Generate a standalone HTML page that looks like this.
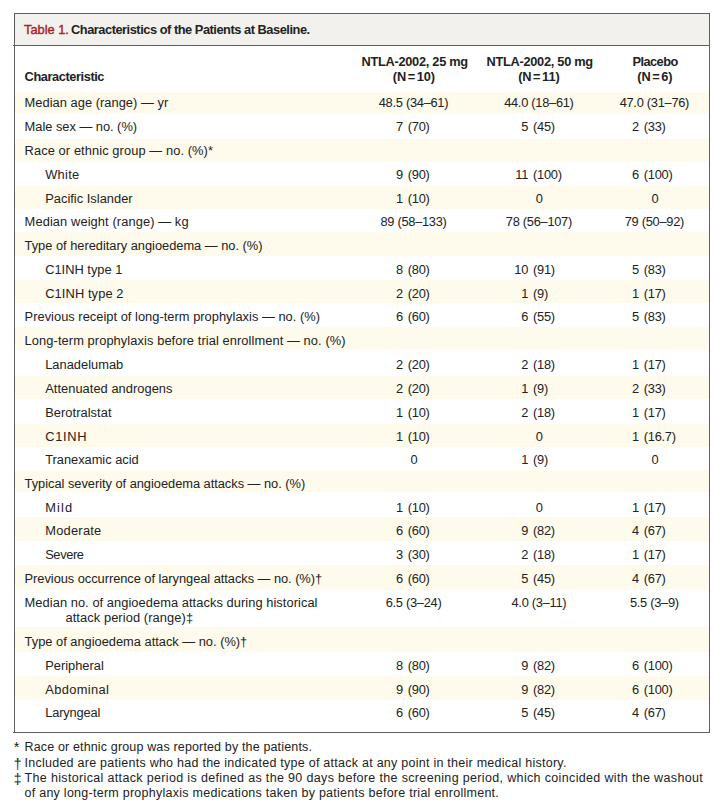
<!DOCTYPE html>
<html><head><meta charset="utf-8"><style>
html,body{margin:0;padding:0;background:#fff;width:723px;height:804px;overflow:hidden;position:relative}
body{font-family:"Liberation Sans",sans-serif;color:#222}
.t{position:absolute;white-space:pre;line-height:normal}
.s{position:absolute;left:15px;width:694px;background:#fefaec}
.box{position:absolute;left:14px;top:13px;width:694px;height:718px;border:1px solid #5f5f5f}
.hdr{position:absolute;left:15px;top:14px;width:694px;height:31px;background:#f3f1ed;border-bottom:1px solid #5f5f5f}
</style></head><body>
<div class="box"></div>
<div class="hdr"></div>
<div style="position:absolute;left:13px;top:45px;width:1px;height:1px;background:#5f5f5f"></div>
<div style="position:absolute;left:13px;top:732px;width:1px;height:1px;background:#5f5f5f"></div>
<div class="s" style="top:92.0px;height:22.2px"></div>
<div class="s" style="top:138.6px;height:23.4px"></div>
<div class="s" style="top:186.2px;height:23.0px"></div>
<div class="s" style="top:232.2px;height:23.6px"></div>
<div class="s" style="top:279.6px;height:23.4px"></div>
<div class="s" style="top:327.2px;height:22.4px"></div>
<div class="s" style="top:375.6px;height:23.6px"></div>
<div class="s" style="top:423.5px;height:23.0px"></div>
<div class="s" style="top:470.0px;height:21.8px"></div>
<div class="s" style="top:517.3px;height:24.2px"></div>
<div class="s" style="top:565.0px;height:25.0px"></div>
<div class="s" style="top:627.4px;height:24.3px"></div>
<div class="s" style="top:675.9px;height:23.9px"></div>
<div class="t" style="left:24.60px;top:95.37px;font-size:12.85px;letter-spacing:0.036px;color:#222;">Median age (range) — yr</div>
<div class="t" style="left:263.50px;width:300px;text-align:center;top:95.37px;font-size:12.85px;letter-spacing:-0.28px;color:#222;">48.5 (34–61)</div>
<div class="t" style="left:388.90px;width:300px;text-align:center;top:95.37px;font-size:12.85px;letter-spacing:-0.28px;color:#222;">44.0 (18–61)</div>
<div class="t" style="left:504.40px;width:300px;text-align:center;top:95.37px;font-size:12.85px;letter-spacing:-0.28px;color:#222;">47.0 (31–76)</div>
<div class="t" style="left:24.60px;top:119.17px;font-size:12.85px;letter-spacing:-0.018px;color:#222;">Male sex — no. (%)</div>
<div class="t" style="left:302.80px;width:100px;text-align:right;top:119.17px;font-size:12.85px;letter-spacing:-0.28px">7</div>
<div class="t" style="left:407.80px;top:119.17px;font-size:12.85px;letter-spacing:-0.28px;color:#222;">(70)</div>
<div class="t" style="left:428.10px;width:100px;text-align:right;top:119.17px;font-size:12.85px;letter-spacing:-0.28px">5</div>
<div class="t" style="left:533.10px;top:119.17px;font-size:12.85px;letter-spacing:-0.28px;color:#222;">(45)</div>
<div class="t" style="left:538.80px;width:100px;text-align:right;top:119.17px;font-size:12.85px;letter-spacing:-0.28px">2</div>
<div class="t" style="left:643.80px;top:119.17px;font-size:12.85px;letter-spacing:-0.28px;color:#222;">(33)</div>
<div class="t" style="left:24.60px;top:142.97px;font-size:12.85px;letter-spacing:0.093px;color:#222;">Race or ethnic group — no. (%)*</div>
<div class="t" style="left:45.20px;top:166.77px;font-size:12.85px;letter-spacing:0.3px;color:#222;">White</div>
<div class="t" style="left:302.80px;width:100px;text-align:right;top:166.77px;font-size:12.85px;letter-spacing:-0.28px">9</div>
<div class="t" style="left:407.80px;top:166.77px;font-size:12.85px;letter-spacing:-0.28px;color:#222;">(90)</div>
<div class="t" style="left:428.10px;width:100px;text-align:right;top:166.77px;font-size:12.85px;letter-spacing:-0.28px">11</div>
<div class="t" style="left:533.10px;top:166.77px;font-size:12.85px;letter-spacing:-0.28px;color:#222;">(100)</div>
<div class="t" style="left:538.80px;width:100px;text-align:right;top:166.77px;font-size:12.85px;letter-spacing:-0.28px">6</div>
<div class="t" style="left:643.80px;top:166.77px;font-size:12.85px;letter-spacing:-0.28px;color:#222;">(100)</div>
<div class="t" style="left:45.20px;top:190.57px;font-size:12.85px;letter-spacing:0.02px;color:#222;">Pacific Islander</div>
<div class="t" style="left:302.80px;width:100px;text-align:right;top:190.57px;font-size:12.85px;letter-spacing:-0.28px">1</div>
<div class="t" style="left:407.80px;top:190.57px;font-size:12.85px;letter-spacing:-0.28px;color:#222;">(10)</div>
<div class="t" style="left:389.10px;width:300px;text-align:center;top:190.57px;font-size:12.85px;letter-spacing:-0.28px;color:#222;">0</div>
<div class="t" style="left:505.00px;width:300px;text-align:center;top:190.57px;font-size:12.85px;letter-spacing:-0.28px;color:#222;">0</div>
<div class="t" style="left:24.60px;top:214.37px;font-size:12.85px;letter-spacing:0.104px;color:#222;">Median weight (range) — kg</div>
<div class="t" style="left:263.50px;width:300px;text-align:center;top:214.37px;font-size:12.85px;letter-spacing:-0.28px;color:#222;">89 (58–133)</div>
<div class="t" style="left:388.90px;width:300px;text-align:center;top:214.37px;font-size:12.85px;letter-spacing:-0.28px;color:#222;">78 (56–107)</div>
<div class="t" style="left:504.40px;width:300px;text-align:center;top:214.37px;font-size:12.85px;letter-spacing:-0.28px;color:#222;">79 (50–92)</div>
<div class="t" style="left:24.60px;top:238.17px;font-size:12.85px;letter-spacing:-0.016px;color:#222;">Type of hereditary angioedema — no. (%)</div>
<div class="t" style="left:45.20px;top:261.97px;font-size:12.85px;letter-spacing:0.009px;color:#222;">C1INH type 1</div>
<div class="t" style="left:302.80px;width:100px;text-align:right;top:261.97px;font-size:12.85px;letter-spacing:-0.28px">8</div>
<div class="t" style="left:407.80px;top:261.97px;font-size:12.85px;letter-spacing:-0.28px;color:#222;">(80)</div>
<div class="t" style="left:428.10px;width:100px;text-align:right;top:261.97px;font-size:12.85px;letter-spacing:-0.28px">10</div>
<div class="t" style="left:533.10px;top:261.97px;font-size:12.85px;letter-spacing:-0.28px;color:#222;">(91)</div>
<div class="t" style="left:538.80px;width:100px;text-align:right;top:261.97px;font-size:12.85px;letter-spacing:-0.28px">5</div>
<div class="t" style="left:643.80px;top:261.97px;font-size:12.85px;letter-spacing:-0.28px;color:#222;">(83)</div>
<div class="t" style="left:45.20px;top:285.77px;font-size:12.85px;letter-spacing:0.109px;color:#222;">C1INH type 2</div>
<div class="t" style="left:302.80px;width:100px;text-align:right;top:285.77px;font-size:12.85px;letter-spacing:-0.28px">2</div>
<div class="t" style="left:407.80px;top:285.77px;font-size:12.85px;letter-spacing:-0.28px;color:#222;">(20)</div>
<div class="t" style="left:428.10px;width:100px;text-align:right;top:285.77px;font-size:12.85px;letter-spacing:-0.28px">1</div>
<div class="t" style="left:533.10px;top:285.77px;font-size:12.85px;letter-spacing:-0.28px;color:#222;">(9)</div>
<div class="t" style="left:538.80px;width:100px;text-align:right;top:285.77px;font-size:12.85px;letter-spacing:-0.28px">1</div>
<div class="t" style="left:643.80px;top:285.77px;font-size:12.85px;letter-spacing:-0.28px;color:#222;">(17)</div>
<div class="t" style="left:24.60px;top:308.77px;font-size:12.85px;letter-spacing:0.026px;color:#222;">Previous receipt of long-term prophylaxis — no. (%)</div>
<div class="t" style="left:302.80px;width:100px;text-align:right;top:308.77px;font-size:12.85px;letter-spacing:-0.28px">6</div>
<div class="t" style="left:407.80px;top:308.77px;font-size:12.85px;letter-spacing:-0.28px;color:#222;">(60)</div>
<div class="t" style="left:428.10px;width:100px;text-align:right;top:308.77px;font-size:12.85px;letter-spacing:-0.28px">6</div>
<div class="t" style="left:533.10px;top:308.77px;font-size:12.85px;letter-spacing:-0.28px;color:#222;">(55)</div>
<div class="t" style="left:538.80px;width:100px;text-align:right;top:308.77px;font-size:12.85px;letter-spacing:-0.28px">5</div>
<div class="t" style="left:643.80px;top:308.77px;font-size:12.85px;letter-spacing:-0.28px;color:#222;">(83)</div>
<div class="t" style="left:24.60px;top:333.37px;font-size:12.85px;letter-spacing:0.087px;color:#222;">Long-term prophylaxis before trial enrollment — no. (%)</div>
<div class="t" style="left:45.20px;top:357.17px;font-size:12.85px;letter-spacing:0.02px;color:#222;">Lanadelumab</div>
<div class="t" style="left:302.80px;width:100px;text-align:right;top:357.17px;font-size:12.85px;letter-spacing:-0.28px">2</div>
<div class="t" style="left:407.80px;top:357.17px;font-size:12.85px;letter-spacing:-0.28px;color:#222;">(20)</div>
<div class="t" style="left:428.10px;width:100px;text-align:right;top:357.17px;font-size:12.85px;letter-spacing:-0.28px">2</div>
<div class="t" style="left:533.10px;top:357.17px;font-size:12.85px;letter-spacing:-0.28px;color:#222;">(18)</div>
<div class="t" style="left:538.80px;width:100px;text-align:right;top:357.17px;font-size:12.85px;letter-spacing:-0.28px">1</div>
<div class="t" style="left:643.80px;top:357.17px;font-size:12.85px;letter-spacing:-0.28px;color:#222;">(17)</div>
<div class="t" style="left:45.20px;top:380.97px;font-size:12.85px;letter-spacing:0.047px;color:#222;">Attenuated androgens</div>
<div class="t" style="left:302.80px;width:100px;text-align:right;top:380.97px;font-size:12.85px;letter-spacing:-0.28px">2</div>
<div class="t" style="left:407.80px;top:380.97px;font-size:12.85px;letter-spacing:-0.28px;color:#222;">(20)</div>
<div class="t" style="left:428.10px;width:100px;text-align:right;top:380.97px;font-size:12.85px;letter-spacing:-0.28px">1</div>
<div class="t" style="left:533.10px;top:380.97px;font-size:12.85px;letter-spacing:-0.28px;color:#222;">(9)</div>
<div class="t" style="left:538.80px;width:100px;text-align:right;top:380.97px;font-size:12.85px;letter-spacing:-0.28px">2</div>
<div class="t" style="left:643.80px;top:380.97px;font-size:12.85px;letter-spacing:-0.28px;color:#222;">(33)</div>
<div class="t" style="left:45.20px;top:404.77px;font-size:12.85px;letter-spacing:0.055px;color:#222;">Berotralstat</div>
<div class="t" style="left:302.80px;width:100px;text-align:right;top:404.77px;font-size:12.85px;letter-spacing:-0.28px">1</div>
<div class="t" style="left:407.80px;top:404.77px;font-size:12.85px;letter-spacing:-0.28px;color:#222;">(10)</div>
<div class="t" style="left:428.10px;width:100px;text-align:right;top:404.77px;font-size:12.85px;letter-spacing:-0.28px">2</div>
<div class="t" style="left:533.10px;top:404.77px;font-size:12.85px;letter-spacing:-0.28px;color:#222;">(18)</div>
<div class="t" style="left:538.80px;width:100px;text-align:right;top:404.77px;font-size:12.85px;letter-spacing:-0.28px">1</div>
<div class="t" style="left:643.80px;top:404.77px;font-size:12.85px;letter-spacing:-0.28px;color:#222;">(17)</div>
<div class="t" style="left:45.20px;top:428.57px;font-size:12.85px;letter-spacing:0.725px;color:#222;">C1INH</div>
<div class="t" style="left:302.80px;width:100px;text-align:right;top:428.57px;font-size:12.85px;letter-spacing:-0.28px">1</div>
<div class="t" style="left:407.80px;top:428.57px;font-size:12.85px;letter-spacing:-0.28px;color:#222;">(10)</div>
<div class="t" style="left:389.10px;width:300px;text-align:center;top:428.57px;font-size:12.85px;letter-spacing:-0.28px;color:#222;">0</div>
<div class="t" style="left:538.80px;width:100px;text-align:right;top:428.57px;font-size:12.85px;letter-spacing:-0.28px">1</div>
<div class="t" style="left:643.80px;top:428.57px;font-size:12.85px;letter-spacing:-0.28px;color:#222;">(16.7)</div>
<div class="t" style="left:45.20px;top:452.37px;font-size:12.85px;letter-spacing:-0.021px;color:#222;">Tranexamic acid</div>
<div class="t" style="left:264.00px;width:300px;text-align:center;top:452.37px;font-size:12.85px;letter-spacing:-0.28px;color:#222;">0</div>
<div class="t" style="left:428.10px;width:100px;text-align:right;top:452.37px;font-size:12.85px;letter-spacing:-0.28px">1</div>
<div class="t" style="left:533.10px;top:452.37px;font-size:12.85px;letter-spacing:-0.28px;color:#222;">(9)</div>
<div class="t" style="left:505.00px;width:300px;text-align:center;top:452.37px;font-size:12.85px;letter-spacing:-0.28px;color:#222;">0</div>
<div class="t" style="left:24.60px;top:476.17px;font-size:12.85px;letter-spacing:-0.03px;color:#222;">Typical severity of angioedema attacks — no. (%)</div>
<div class="t" style="left:45.20px;top:499.97px;font-size:12.85px;letter-spacing:1.167px;color:#222;">Mild</div>
<div class="t" style="left:302.80px;width:100px;text-align:right;top:499.97px;font-size:12.85px;letter-spacing:-0.28px">1</div>
<div class="t" style="left:407.80px;top:499.97px;font-size:12.85px;letter-spacing:-0.28px;color:#222;">(10)</div>
<div class="t" style="left:389.10px;width:300px;text-align:center;top:499.97px;font-size:12.85px;letter-spacing:-0.28px;color:#222;">0</div>
<div class="t" style="left:538.80px;width:100px;text-align:right;top:499.97px;font-size:12.85px;letter-spacing:-0.28px">1</div>
<div class="t" style="left:643.80px;top:499.97px;font-size:12.85px;letter-spacing:-0.28px;color:#222;">(17)</div>
<div class="t" style="left:45.20px;top:522.97px;font-size:12.85px;letter-spacing:0.257px;color:#222;">Moderate</div>
<div class="t" style="left:302.80px;width:100px;text-align:right;top:522.97px;font-size:12.85px;letter-spacing:-0.28px">6</div>
<div class="t" style="left:407.80px;top:522.97px;font-size:12.85px;letter-spacing:-0.28px;color:#222;">(60)</div>
<div class="t" style="left:428.10px;width:100px;text-align:right;top:522.97px;font-size:12.85px;letter-spacing:-0.28px">9</div>
<div class="t" style="left:533.10px;top:522.97px;font-size:12.85px;letter-spacing:-0.28px;color:#222;">(82)</div>
<div class="t" style="left:538.80px;width:100px;text-align:right;top:522.97px;font-size:12.85px;letter-spacing:-0.28px">4</div>
<div class="t" style="left:643.80px;top:522.97px;font-size:12.85px;letter-spacing:-0.28px;color:#222;">(67)</div>
<div class="t" style="left:45.20px;top:546.77px;font-size:12.85px;letter-spacing:-0.38px;color:#222;">Severe</div>
<div class="t" style="left:302.80px;width:100px;text-align:right;top:546.77px;font-size:12.85px;letter-spacing:-0.28px">3</div>
<div class="t" style="left:407.80px;top:546.77px;font-size:12.85px;letter-spacing:-0.28px;color:#222;">(30)</div>
<div class="t" style="left:428.10px;width:100px;text-align:right;top:546.77px;font-size:12.85px;letter-spacing:-0.28px">2</div>
<div class="t" style="left:533.10px;top:546.77px;font-size:12.85px;letter-spacing:-0.28px;color:#222;">(18)</div>
<div class="t" style="left:538.80px;width:100px;text-align:right;top:546.77px;font-size:12.85px;letter-spacing:-0.28px">1</div>
<div class="t" style="left:643.80px;top:546.77px;font-size:12.85px;letter-spacing:-0.28px;color:#222;">(17)</div>
<div class="t" style="left:24.60px;top:571.37px;font-size:12.85px;letter-spacing:-0.046px;color:#222;">Previous occurrence of laryngeal attacks — no. (%)†</div>
<div class="t" style="left:302.80px;width:100px;text-align:right;top:571.37px;font-size:12.85px;letter-spacing:-0.28px">6</div>
<div class="t" style="left:407.80px;top:571.37px;font-size:12.85px;letter-spacing:-0.28px;color:#222;">(60)</div>
<div class="t" style="left:428.10px;width:100px;text-align:right;top:571.37px;font-size:12.85px;letter-spacing:-0.28px">5</div>
<div class="t" style="left:533.10px;top:571.37px;font-size:12.85px;letter-spacing:-0.28px;color:#222;">(45)</div>
<div class="t" style="left:538.80px;width:100px;text-align:right;top:571.37px;font-size:12.85px;letter-spacing:-0.28px">4</div>
<div class="t" style="left:643.80px;top:571.37px;font-size:12.85px;letter-spacing:-0.28px;color:#222;">(67)</div>
<div class="t" style="left:24.60px;top:595.17px;font-size:12.85px;letter-spacing:0.061px;color:#222;">Median no. of angioedema attacks during historical</div>
<div class="t" style="left:65.40px;top:609.87px;font-size:12.85px;letter-spacing:0.095px;color:#222;">attack period (range)‡</div>
<div class="t" style="left:263.50px;width:300px;text-align:center;top:595.17px;font-size:12.85px;letter-spacing:-0.28px;color:#222;">6.5 (3–24)</div>
<div class="t" style="left:388.90px;width:300px;text-align:center;top:595.17px;font-size:12.85px;letter-spacing:-0.28px;color:#222;">4.0 (3–11)</div>
<div class="t" style="left:504.40px;width:300px;text-align:center;top:595.17px;font-size:12.85px;letter-spacing:-0.28px;color:#222;">5.5 (3–9)</div>
<div class="t" style="left:24.60px;top:633.97px;font-size:12.85px;letter-spacing:-0.003px;color:#222;">Type of angioedema attack — no. (%)†</div>
<div class="t" style="left:45.20px;top:657.77px;font-size:12.85px;color:#222;">Peripheral</div>
<div class="t" style="left:302.80px;width:100px;text-align:right;top:657.77px;font-size:12.85px;letter-spacing:-0.28px">8</div>
<div class="t" style="left:407.80px;top:657.77px;font-size:12.85px;letter-spacing:-0.28px;color:#222;">(80)</div>
<div class="t" style="left:428.10px;width:100px;text-align:right;top:657.77px;font-size:12.85px;letter-spacing:-0.28px">9</div>
<div class="t" style="left:533.10px;top:657.77px;font-size:12.85px;letter-spacing:-0.28px;color:#222;">(82)</div>
<div class="t" style="left:538.80px;width:100px;text-align:right;top:657.77px;font-size:12.85px;letter-spacing:-0.28px">6</div>
<div class="t" style="left:643.80px;top:657.77px;font-size:12.85px;letter-spacing:-0.28px;color:#222;">(100)</div>
<div class="t" style="left:45.20px;top:681.57px;font-size:12.85px;letter-spacing:0.375px;color:#222;">Abdominal</div>
<div class="t" style="left:302.80px;width:100px;text-align:right;top:681.57px;font-size:12.85px;letter-spacing:-0.28px">9</div>
<div class="t" style="left:407.80px;top:681.57px;font-size:12.85px;letter-spacing:-0.28px;color:#222;">(90)</div>
<div class="t" style="left:428.10px;width:100px;text-align:right;top:681.57px;font-size:12.85px;letter-spacing:-0.28px">9</div>
<div class="t" style="left:533.10px;top:681.57px;font-size:12.85px;letter-spacing:-0.28px;color:#222;">(82)</div>
<div class="t" style="left:538.80px;width:100px;text-align:right;top:681.57px;font-size:12.85px;letter-spacing:-0.28px">6</div>
<div class="t" style="left:643.80px;top:681.57px;font-size:12.85px;letter-spacing:-0.28px;color:#222;">(100)</div>
<div class="t" style="left:45.20px;top:705.37px;font-size:12.85px;letter-spacing:-0.162px;color:#222;">Laryngeal</div>
<div class="t" style="left:302.80px;width:100px;text-align:right;top:705.37px;font-size:12.85px;letter-spacing:-0.28px">6</div>
<div class="t" style="left:407.80px;top:705.37px;font-size:12.85px;letter-spacing:-0.28px;color:#222;">(60)</div>
<div class="t" style="left:428.10px;width:100px;text-align:right;top:705.37px;font-size:12.85px;letter-spacing:-0.28px">5</div>
<div class="t" style="left:533.10px;top:705.37px;font-size:12.85px;letter-spacing:-0.28px;color:#222;">(45)</div>
<div class="t" style="left:538.80px;width:100px;text-align:right;top:705.37px;font-size:12.85px;letter-spacing:-0.28px">4</div>
<div class="t" style="left:643.80px;top:705.37px;font-size:12.85px;letter-spacing:-0.28px;color:#222;">(67)</div>
<div class="t" style="left:24.00px;top:22.42px;font-size:12.8px;color:#222;"><span style="color:#a8232b;-webkit-text-stroke:0.4px #a8232b">Table 1.</span></div>
<div class="t" style="left:71.00px;top:22.42px;font-size:12.8px;color:#222;"><b style="letter-spacing:-0.46px">Characteristics of the Patients at Baseline.</b></div>
<div class="t" style="left:24.60px;top:69.12px;font-size:12.8px;font-weight:bold;letter-spacing:-0.42px;color:#222;">Characteristic</div>
<div class="t" style="left:264.70px;width:300px;text-align:center;top:54.42px;font-size:12.8px;font-weight:bold;letter-spacing:-0.29px;color:#222;">NTLA-2002, 25 mg</div>
<div class="t" style="left:263.90px;width:300px;text-align:center;top:69.12px;font-size:12.8px;font-weight:bold;letter-spacing:-0.1px;color:#222;">(N<span style="margin:0 1.6px">=</span>10)</div>
<div class="t" style="left:389.70px;width:300px;text-align:center;top:54.42px;font-size:12.8px;font-weight:bold;letter-spacing:-0.29px;color:#222;">NTLA-2002, 50 mg</div>
<div class="t" style="left:388.90px;width:300px;text-align:center;top:69.12px;font-size:12.8px;font-weight:bold;letter-spacing:-0.1px;color:#222;">(N<span style="margin:0 1.6px">=</span>11)</div>
<div class="t" style="left:505.10px;width:300px;text-align:center;top:54.42px;font-size:12.8px;font-weight:bold;letter-spacing:-0.55px;color:#222;">Placebo</div>
<div class="t" style="left:504.80px;width:300px;text-align:center;top:69.12px;font-size:12.8px;font-weight:bold;letter-spacing:-0.1px;color:#222;">(N<span style="margin:0 1.6px">=</span>6)</div>
<div class="t" style="left:13.80px;top:739.38px;font-size:14.5px;color:#222;">*</div>
<div class="t" style="left:24.50px;top:739.69px;font-size:12.5px;letter-spacing:0.15px;color:#222;">Race or ethnic group was reported by the patients.</div>
<div class="t" style="left:13.80px;top:755.63px;font-size:14px;color:#222;">†</div>
<div class="t" style="left:24.50px;top:755.69px;font-size:12.5px;letter-spacing:0.255px;color:#222;">Included are patients who had the indicated type of attack at any point in their medical history.</div>
<div class="t" style="left:13.80px;top:770.93px;font-size:14px;color:#222;">‡</div>
<div class="t" style="left:24.50px;top:770.99px;font-size:12.5px;letter-spacing:0.345px;color:#222;">The historical attack period is defined as the 90 days before the screening period, which coincided with the washout</div>
<div class="t" style="left:24.50px;top:785.69px;font-size:12.5px;letter-spacing:0.26px;color:#222;">of any long-term prophylaxis medications taken by patients before trial enrollment.</div>
</body></html>
